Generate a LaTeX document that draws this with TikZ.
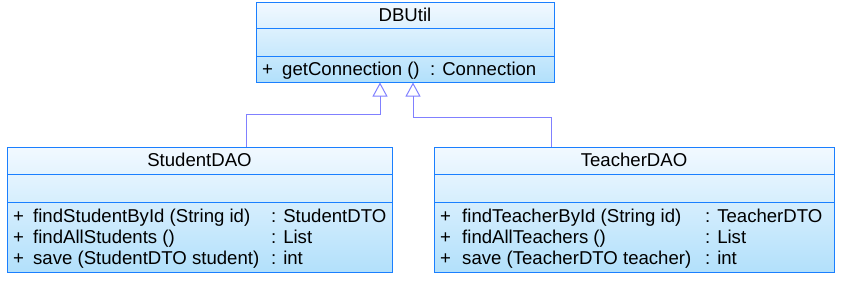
\documentclass[tikz,border=0pt]{standalone}
\usepackage{fontspec}
\setmainfont{Liberation Sans}
\usetikzlibrary{arrows.meta,calc}
\definecolor{umlborder}{HTML}{1A7FFF}
\definecolor{umlline}{HTML}{8080FF}
\definecolor{umltop}{HTML}{F2F9FF}
\definecolor{umlbot}{HTML}{B2E0FB}
\tikzset{
  classbox/.style={draw=umlborder, line width=1pt, rectangle, inner sep=0pt,
    top color=umltop, bottom color=umlbot, shading angle=0},
  divider/.style={draw=umlborder, line width=1pt},
  txt/.style={anchor=base west, inner sep=0pt, font=\fontsize{18.6}{21}\selectfont},
  ttl/.style={anchor=base, inner sep=0pt, font=\fontsize{18.6}{21}\selectfont},
  gen/.style={draw=umlline, line width=1pt, -{Triangle[open, length=14pt, width=15pt]}}
}
\begin{document}
\begin{tikzpicture}[x=1pt,y=-1pt]
\useasboundingbox (0,0) rectangle (841,281);
% DBUtil
\node[classbox, minimum width=298pt, minimum height=80pt] (db) at (405,42) {};
\draw[divider] (256,28) -- (554,28);
\draw[divider] (256,56) -- (554,56);
\node[ttl] (dbt) at (405,21) {DBUtil};
\node[txt] (dbp) at (262,75) {+};
\node[txt] (dbm) at (282,75) {getConnection ()};
\node[txt] (dbr) at (430,75) {: Connection};
% StudentDAO
\node[classbox, minimum width=385pt, minimum height=125pt] (stud) at (199.5,209.5) {};
\draw[divider] (7,174) -- (392,174);
\draw[divider] (7,202) -- (392,202);
\node[ttl] (st) at (199.5,166) {StudentDAO};
\node[txt] (sp1) at (13,222) {+};
\node[txt] (sp2) at (13,243) {+};
\node[txt] (sp3) at (13,264) {+};
\node[txt] (sm1) at (33,222) {findStudentById (String id)};
\node[txt] (sm2) at (33,243) {findAllStudents ()};
\node[txt] (sm3) at (33,264) {save (StudentDTO student)};
\node[txt] (sr1) at (271,222) {: StudentDTO};
\node[txt] (sr2) at (271,243) {: List};
\node[txt] (sr3) at (271,264) {: int};
% TeacherDAO
\node[classbox, minimum width=400pt, minimum height=125pt] (teach) at (634,209.5) {};
\draw[divider] (434,174) -- (834,174);
\draw[divider] (434,202) -- (834,202);
\node[ttl] (tt) at (634,166) {TeacherDAO};
\node[txt] (tp1) at (440,222) {+};
\node[txt] (tp2) at (440,243) {+};
\node[txt] (tp3) at (440,264) {+};
\node[txt] (tm1) at (462,222) {findTeacherById (String id)};
\node[txt] (tm2) at (462,243) {findAllTeachers ()};
\node[txt] (tm3) at (462,264) {save (TeacherDTO teacher)};
\node[txt] (tr1) at (705,222) {: TeacherDTO};
\node[txt] (tr2) at (705,243) {: List};
\node[txt] (tr3) at (705,264) {: int};
% generalizations
\draw[gen] ($(stud.north)+(46.5,0)$) -- ++(0,-32) -| ($(db.south)+(-25,0)$);
\draw[gen] ($(teach.north)+(-83,0)$) -- ++(0,-29) -| ($(db.south)+(8,0)$);
\end{tikzpicture}
\end{document}
